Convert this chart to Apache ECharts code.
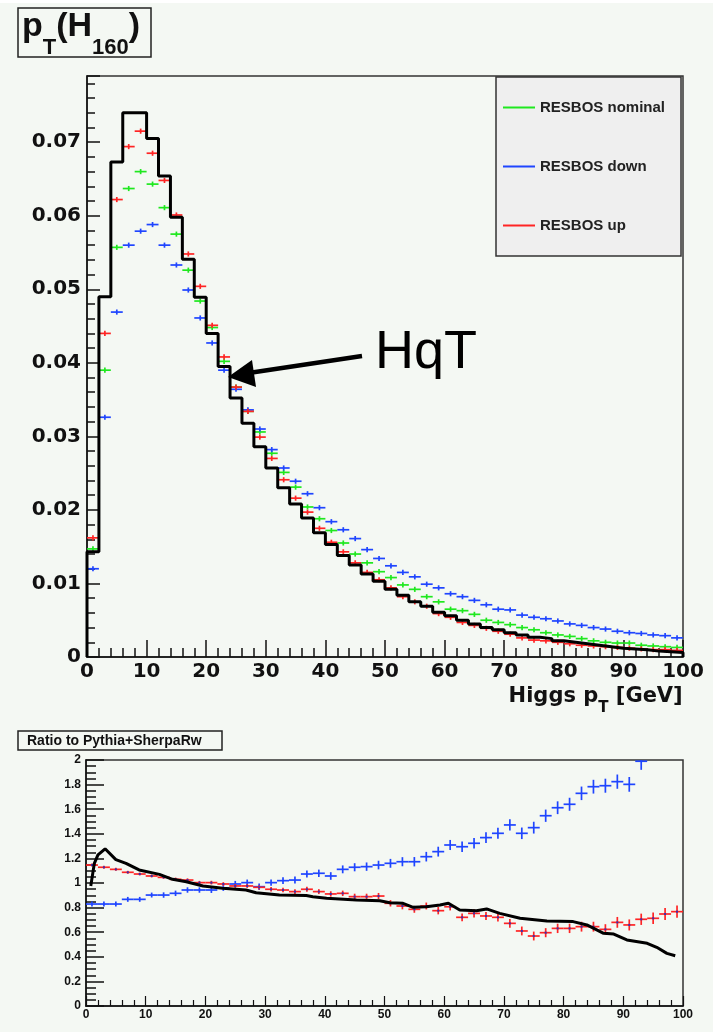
<!DOCTYPE html>
<html>
<head>
<meta charset="utf-8">
<script src="https://cdn.jsdelivr.net/npm/echarts@6/dist/echarts.min.js"></script>
<style>
  html, body { margin: 0; padding: 0; background: #f4f8f3; }
  #chart { width: 713px; height: 1032px; }
</style>
</head>
<body>
<div id="chart"></div>
<script>
// bin centres, 2 GeV bins from 0 to 100
const binCenters = [1, 3, 5, 7, 9, 11, 13, 15, 17, 19, 21, 23, 25, 27, 29, 31, 33, 35, 37, 39,
  41, 43, 45, 47, 49, 51, 53, 55, 57, 59, 61, 63, 65, 67, 69, 71, 73, 75, 77, 79,
  81, 83, 85, 87, 89, 91, 93, 95, 97, 99]

// upper pad: normalised pT(H) distributions
const hqt = [0.0143, 0.0490, 0.0673, 0.0740, 0.0740, 0.0705, 0.0654, 0.0598, 0.0541, 0.0489,
  0.0440, 0.0395, 0.0352, 0.0318, 0.0286, 0.0257, 0.0230, 0.0208, 0.0189, 0.0169,
  0.0153, 0.0138, 0.0125, 0.0113, 0.0103, 0.0092, 0.0084, 0.0075, 0.0069, 0.0061,
  0.0056, 0.0050, 0.0045, 0.0040, 0.0037, 0.0033, 0.0030, 0.0027, 0.0025, 0.0022,
  0.0020, 0.0018, 0.0016, 0.0014, 0.0012, 0.0011, 0.0010, 0.0008, 0.0007, 0.0006]
const resbosNominal = [0.0147, 0.0390, 0.0557, 0.0637, 0.0660, 0.0643, 0.0611, 0.0575, 0.0526, 0.0484,
  0.0448, 0.0402, 0.0367, 0.0334, 0.0306, 0.0277, 0.0251, 0.0231, 0.0204, 0.0188,
  0.0172, 0.0155, 0.0140, 0.0128, 0.0116, 0.0108, 0.0098, 0.0092, 0.0082, 0.0075,
  0.0065, 0.0063, 0.0058, 0.0050, 0.0047, 0.0044, 0.0040, 0.0037, 0.0033, 0.0030,
  0.0028, 0.0025, 0.0022, 0.0020, 0.0019, 0.0019, 0.0016, 0.0015, 0.0014, 0.0013]
const resbosDown = [0.0120, 0.0326, 0.0469, 0.0560, 0.0579, 0.0588, 0.0560, 0.0533, 0.0499, 0.0461,
  0.0427, 0.0390, 0.0364, 0.0336, 0.0310, 0.0282, 0.0257, 0.0239, 0.0222, 0.0203,
  0.0184, 0.0173, 0.0161, 0.0146, 0.0134, 0.0124, 0.0115, 0.0109, 0.0099, 0.0094,
  0.0086, 0.0082, 0.0077, 0.0071, 0.0065, 0.0064, 0.0057, 0.0054, 0.0052, 0.0049,
  0.0045, 0.0043, 0.0040, 0.0038, 0.0035, 0.0033, 0.0032, 0.0030, 0.0029, 0.0026]
const resbosUp = [0.0162, 0.0440, 0.0622, 0.0694, 0.0715, 0.0685, 0.0648, 0.0601, 0.0548, 0.0504,
  0.0451, 0.0408, 0.0367, 0.0334, 0.0299, 0.0270, 0.0241, 0.0216, 0.0197, 0.0175,
  0.0156, 0.0143, 0.0128, 0.0115, 0.0105, 0.0094, 0.0082, 0.0075, 0.0069, 0.0059,
  0.0054, 0.0047, 0.0043, 0.0039, 0.0035, 0.0031, 0.0026, 0.0023, 0.0022, 0.0020,
  0.0018, 0.0016, 0.0015, 0.0014, 0.0013, 0.0012, 0.0011, 0.0010, 0.0010, 0.0009]
const upperErr = 0.00035

// lower pad: ratio to Pythia+SherpaRw
const ratioUp = [1.146, 1.128, 1.111, 1.087, 1.073, 1.057, 1.046, 1.030, 1.024, 1.003,
  1.003, 0.992, 0.976, 0.976, 0.965, 0.949, 0.943, 0.930, 0.949, 0.930,
  0.911, 0.916, 0.889, 0.889, 0.894, 0.835, 0.813, 0.786, 0.813, 0.775,
  0.807, 0.721, 0.753, 0.732, 0.721, 0.672, 0.610, 0.569, 0.596, 0.631,
  0.631, 0.645, 0.645, 0.623, 0.680, 0.659, 0.705, 0.713, 0.748, 0.767]
const ratioUpErr = [0.012, 0.012, 0.012, 0.012, 0.012, 0.012, 0.012, 0.014, 0.014, 0.014,
  0.015, 0.015, 0.016, 0.016, 0.017, 0.018, 0.018, 0.019, 0.020, 0.020,
  0.022, 0.022, 0.024, 0.024, 0.025, 0.026, 0.027, 0.028, 0.028, 0.030,
  0.030, 0.032, 0.033, 0.033, 0.034, 0.035, 0.036, 0.036, 0.037, 0.038,
  0.038, 0.040, 0.040, 0.042, 0.044, 0.045, 0.046, 0.047, 0.048, 0.050]
const ratioDown = [0.829, 0.829, 0.829, 0.867, 0.867, 0.902, 0.902, 0.916, 0.943, 0.943,
  0.943, 0.960, 0.992, 1.003, 0.970, 1.003, 1.019, 1.024, 1.073, 1.079,
  1.057, 1.111, 1.128, 1.133, 1.146, 1.160, 1.173, 1.173, 1.214, 1.255,
  1.309, 1.295, 1.323, 1.369, 1.404, 1.472, 1.404, 1.450, 1.547, 1.612,
  1.640, 1.729, 1.783, 1.791, 1.824, 1.802, 1.990, null, null, null]
const ratioDownErr = [0.020, 0.020, 0.020, 0.020, 0.020, 0.020, 0.022, 0.022, 0.022, 0.022,
  0.024, 0.024, 0.025, 0.025, 0.026, 0.026, 0.027, 0.028, 0.029, 0.030,
  0.031, 0.032, 0.033, 0.034, 0.035, 0.036, 0.037, 0.038, 0.039, 0.040,
  0.041, 0.042, 0.043, 0.044, 0.045, 0.046, 0.047, 0.048, 0.050, 0.052,
  0.053, 0.055, 0.056, 0.057, 0.058, 0.060, 0.070, null, null, null]
// HqT / Pythia+SherpaRw, fine-binned curve [pT, ratio]
const ratioHqt = [[0.8, 0.976], [1.4, 1.16], [2.0, 1.228], [3.2, 1.278], [5.0, 1.19], [6.7, 1.16],
  [8.9, 1.106], [12.3, 1.07], [14.5, 1.03], [16.8, 1.01], [19.6, 0.975], [22.9, 0.957],
  [26.8, 0.943], [28.5, 0.921], [32.4, 0.902], [36.9, 0.898], [38.0, 0.889], [40.3, 0.876],
  [45.3, 0.862], [49.2, 0.856], [50.9, 0.84], [53.1, 0.835], [54.8, 0.802], [57.0, 0.807],
  [59.3, 0.821], [60.7, 0.835], [62.6, 0.78], [65.4, 0.775], [67.1, 0.789], [69.3, 0.753],
  [72.7, 0.713], [77.2, 0.691], [81.6, 0.686], [83.9, 0.659], [86.7, 0.591], [88.4, 0.585],
  [90.6, 0.537], [94.0, 0.51], [95.6, 0.477], [97.3, 0.428], [98.7, 0.409]]

const upperYLabels = ['0', '0.01', '0.02', '0.03', '0.04', '0.05', '0.06', '0.07']
const seriesNames = ['RESBOS nominal', 'RESBOS down', 'RESBOS up']

const FONT = "'Liberation Sans', Arial, Helvetica, sans-serif"
const WIDE = "'DejaVu Sans', Verdana, sans-serif"
const GREEN = '#1fe81f'
const BLUE = '#1f45ff'
const RED = '#ff2424'
const INK = '#111'

// histogram outline: rises from 0 at the first edge, falls at the last edge
const hqtStep = [[0, 0]]
  .concat(binCenters.map((c, i) => [c - 1, hqt[i]]))
  .concat([[100, hqt[hqt.length - 1]], [100, 0]])

const withErr = (vals, errs) => binCenters.map((c, i) => [c, vals[i], Array.isArray(errs) ? errs[i] : errs])

// ROOT style error cross: bin-wide horizontal bar plus vertical error bar
const crossRender = (dot) => (params, api) => {
  const x = api.value(0)
  const y = api.value(1)
  const e = api.value(2)
  if (isNaN(y)) return
  const l = api.coord([x - 1, y])
  const r = api.coord([x + 1, y])
  const t = api.coord([x, y + e])
  const b = api.coord([x, y - e])
  const style = { stroke: api.visual('color'), lineWidth: 1.7 }
  const children = [
    { type: 'line', shape: { x1: l[0], y1: l[1], x2: r[0], y2: r[1] }, style },
    { type: 'line', shape: { x1: t[0], y1: t[1], x2: b[0], y2: b[1] }, style }
  ]
  if (dot) {
    children.push({ type: 'rect', shape: { x: t[0] - 1, y: l[1] - 1, width: 2, height: 2 }, style: { fill: dot } })
  }
  return { type: 'group', children }
}

const tickStyle = { color: INK, width: 1.5 }
const axisBase = (labelSize, family) => ({
  type: 'value',
  axisLine: { show: true, onZero: false, lineStyle: { color: INK, width: 1.5 } },
  splitLine: { show: false },
  axisLabel: { fontFamily: family, fontWeight: 'bold', fontSize: labelSize, color: INK }
})

const chart = echarts.init(document.getElementById('chart'), null, { renderer: 'canvas' })

chart.setOption({
  animation: false,
  backgroundColor: '#f4f8f3',
  textStyle: { fontFamily: FONT },
  grid: [
    { left: 87, top: 76, width: 596, height: 581, show: true, borderColor: '#333', borderWidth: 1.5, backgroundColor: 'transparent' },
    { left: 86, top: 760, width: 597, height: 246, show: true, borderColor: '#333', borderWidth: 1.5, backgroundColor: 'transparent' }
  ],
  xAxis: [
    {
      ...axisBase(20, WIDE), gridIndex: 0, min: 0, max: 100, interval: 10,
      axisTick: { inside: true, length: 17, lineStyle: tickStyle },
      minorTick: { show: true, splitNumber: 5, length: 9, lineStyle: tickStyle },
      axisLabel: { ...axisBase(20, WIDE).axisLabel, margin: 5 }
    },
    {
      ...axisBase(12, FONT), gridIndex: 1, min: 0, max: 100, interval: 10,
      axisTick: { inside: true, length: 10, lineStyle: { color: INK, width: 1.2 } },
      minorTick: { show: true, splitNumber: 5, length: 6, lineStyle: { color: INK, width: 1.2 } },
      axisLabel: { ...axisBase(12, FONT).axisLabel, margin: 3 }
    }
  ],
  yAxis: [
    {
      ...axisBase(20, WIDE), gridIndex: 0, min: 0, max: 0.079, interval: 0.01,
      axisTick: { inside: true, length: 13, lineStyle: tickStyle },
      minorTick: { show: true, splitNumber: 5, length: 8, lineStyle: tickStyle },
      axisLabel: {
        ...axisBase(20, WIDE).axisLabel, margin: 6, showMaxLabel: false,
        formatter: (v) => upperYLabels[Math.round(v * 100)] || ''
      }
    },
    {
      ...axisBase(12, FONT), gridIndex: 1, min: 0, max: 2, interval: 0.2,
      axisTick: { inside: true, length: 18, lineStyle: tickStyle },
      minorTick: { show: true, splitNumber: 4, length: 10, lineStyle: tickStyle },
      axisLabel: {
        ...axisBase(12, FONT).axisLabel, margin: 5,
        formatter: (v) => (Math.abs(v - Math.round(v)) < 1e-9 ? String(Math.round(v)) : v.toFixed(1))
      }
    }
  ],
  legend: {
    orient: 'vertical',
    left: 496,
    top: 77,
    padding: [23, 16, 23, 7],
    itemGap: 44,
    itemWidth: 32,
    itemHeight: 2,
    backgroundColor: '#efefef',
    borderColor: '#333',
    borderWidth: 1.5,
    borderRadius: 0,
    selectedMode: false,
    textStyle: { fontFamily: FONT, fontWeight: 'bold', fontSize: 15, color: '#222' },
    data: seriesNames.map((name) => ({ name, icon: 'rect' }))
  },
  series: [
    {
      name: seriesNames[0], type: 'custom', xAxisIndex: 0, yAxisIndex: 0, clip: true,
      itemStyle: { color: GREEN }, renderItem: crossRender(null),
      encode: { x: 0, y: 1 }, data: withErr(resbosNominal, upperErr)
    },
    {
      name: seriesNames[1], type: 'custom', xAxisIndex: 0, yAxisIndex: 0, clip: true,
      itemStyle: { color: BLUE }, renderItem: crossRender(null),
      encode: { x: 0, y: 1 }, data: withErr(resbosDown, upperErr)
    },
    {
      name: seriesNames[2], type: 'custom', xAxisIndex: 0, yAxisIndex: 0, clip: true,
      itemStyle: { color: RED }, renderItem: crossRender(null),
      encode: { x: 0, y: 1 }, data: withErr(resbosUp, upperErr)
    },
    {
      name: 'HqT', type: 'line', xAxisIndex: 0, yAxisIndex: 0, step: 'end',
      symbol: 'none', clip: true, z: 5,
      lineStyle: { color: '#000', width: 3 }, itemStyle: { color: '#000' },
      data: hqtStep
    },
    {
      name: 'down ratio', type: 'custom', xAxisIndex: 1, yAxisIndex: 1, clip: true,
      itemStyle: { color: BLUE }, renderItem: crossRender(null),
      encode: { x: 0, y: 1 }, data: withErr(ratioDown, ratioDownErr)
    },
    {
      name: 'up ratio', type: 'custom', xAxisIndex: 1, yAxisIndex: 1, clip: true,
      itemStyle: { color: RED }, renderItem: crossRender('#3a2fb0'),
      encode: { x: 0, y: 1 }, data: withErr(ratioUp, ratioUpErr)
    },
    {
      name: 'HqT ratio', type: 'line', xAxisIndex: 1, yAxisIndex: 1,
      symbol: 'none', clip: true, z: 5,
      lineStyle: { color: '#000', width: 3 }, itemStyle: { color: '#000' },
      data: ratioHqt
    }
  ],
  graphic: [
    { type: 'rect', shape: { x: 0, y: 0, width: 713, height: 3 }, style: { fill: '#fff' }, silent: true },
    // pad title
    { type: 'rect', shape: { x: 18, y: 8, width: 133, height: 49 }, style: { fill: 'none', stroke: '#222', lineWidth: 1.5 } },
    {
      type: 'text', x: 22, y: 10,
      style: {
        text: '{a|p}{s|T}{a|(H}{s|160}{a|)}{z| }',
        verticalAlign: 'top',
        fill: INK,
        rich: {
          a: { fontFamily: FONT, fontWeight: 'bold', fontSize: 34, lineHeight: 40, verticalAlign: 'top', fill: INK },
          s: { fontFamily: FONT, fontWeight: 'bold', fontSize: 22, lineHeight: 22, verticalAlign: 'bottom', fill: INK },
          z: { fontSize: 1, lineHeight: 49 }
        }
      }
    },
    // x axis title
    {
      type: 'text', x: 683, y: 686,
      style: {
        text: '{b|Higgs p}{s|T}{b| [GeV]}{z| }',
        align: 'right',
        verticalAlign: 'top',
        fill: INK,
        rich: {
          b: { fontFamily: WIDE, fontWeight: 'bold', fontSize: 21, lineHeight: 26, verticalAlign: 'top', fill: INK },
          s: { fontFamily: WIDE, fontWeight: 'bold', fontSize: 15, lineHeight: 15, verticalAlign: 'bottom', fill: INK },
          z: { fontSize: 1, lineHeight: 30 }
        }
      }
    },
    // HqT annotation
    { type: 'line', shape: { x1: 362, y1: 356, x2: 242, y2: 374 }, style: { stroke: '#000', lineWidth: 4.5 } },
    { type: 'polygon', shape: { points: [[228, 377], [252, 360], [256, 387]] }, style: { fill: '#000' } },
    { type: 'text', x: 375, y: 353, style: { text: 'HqT', font: "54px " + FONT, fill: '#000', verticalAlign: 'middle' } },
    // ratio pad title
    { type: 'rect', shape: { x: 18, y: 731, width: 204, height: 19 }, style: { fill: 'none', stroke: '#222', lineWidth: 1.5 } },
    { type: 'text', x: 27, y: 741, style: { text: 'Ratio to Pythia+SherpaRw', font: "bold 14px " + FONT, fill: INK, verticalAlign: 'middle' } }
  ]
})
</script>
</body>
</html>
